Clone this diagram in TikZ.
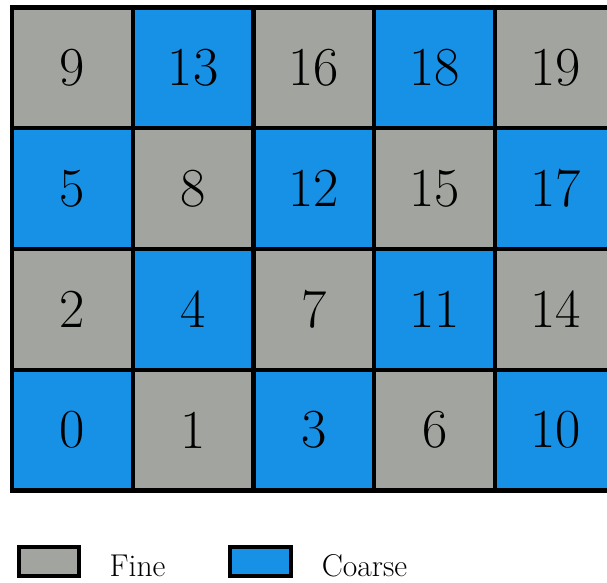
\documentclass[tikz,border=0pt]{standalone}
\usepackage{tikz}

\definecolor{finegray}{RGB}{162,165,159}
\definecolor{coarseblue}{RGB}{23,145,230}

% thin, large design size text shrunk down
\newcommand{\thintext}[2]{\scalebox{#1}{\fontsize{17.28}{20}\selectfont #2}}

\tikzset{
  cell/.style={draw, line width=1pt, minimum size=1cm, inner sep=0pt},
  keybox/.style={draw, line width=1pt, minimum width=0.5cm, minimum height=0.24cm, inner sep=0pt},
  keytext/.style={anchor=base, inner sep=0pt}
}

\begin{document}
\begin{tikzpicture}
    \useasboundingbox (0,0) rectangle (5.027,4.828);
    \clip (0,0) rectangle (5.027,4.828);

    % Cells, row by row from the bottom
    \foreach \lbl [count=\k from 0] in {0,1,3,6,10,2,4,7,11,14,5,8,12,15,17,9,13,16,18,19}{
        \pgfmathtruncatemacro{\cx}{mod(\k,5)}
        \pgfmathtruncatemacro{\cy}{div(\k,5)}
        \pgfmathtruncatemacro{\odd}{mod(\cx+\cy,2)}
        \ifnum\odd=0 \def\fillc{coarseblue}\else\def\fillc{finegray}\fi
        \node[cell, fill=\fillc] (c\lbl) at (0.6+\cx, 1.266+\cy) {\thintext{0.75}{\lbl}};
    }

    % Legend
    \node[keybox, fill=finegray] (finekey) at (0.405,0.178) {};
    \node[keytext] (finelbl) at (1.139,0.05) {\thintext{0.43}{Fine}};
    \node[keybox, fill=coarseblue] (coarsekey) at (2.157,0.178) {};
    \node[keytext] (coarselbl) at (3.019,0.05) {\thintext{0.43}{Coarse}};
\end{tikzpicture}
\end{document}
